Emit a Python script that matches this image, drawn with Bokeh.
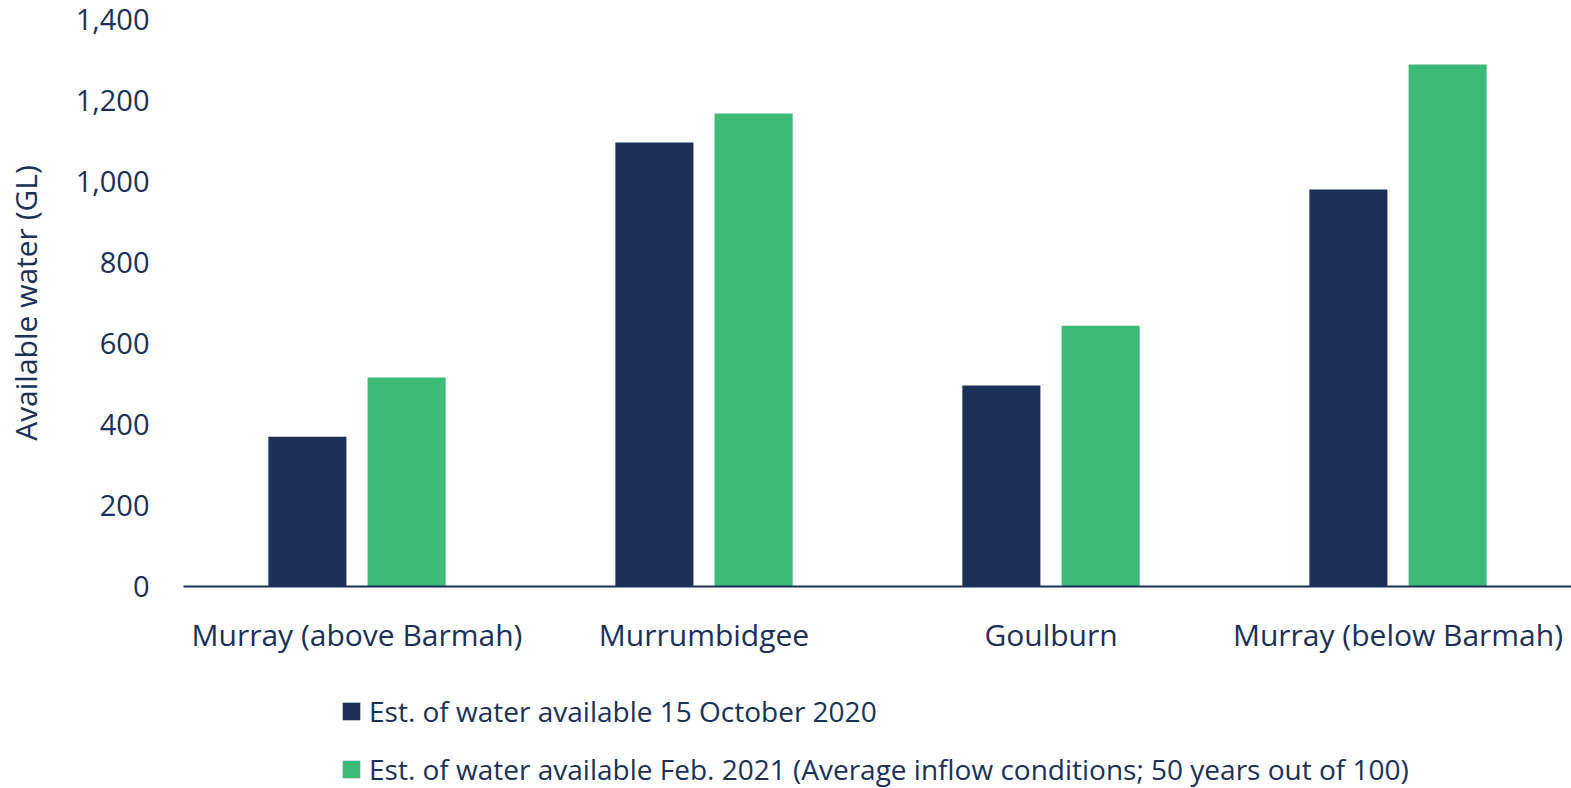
from bokeh.plotting import figure
from bokeh.layouts import column
from bokeh.models import (FactorRange, Range1d, Legend, LegendItem, FixedTicker,
                          NumeralTickFormatter, ColumnDataSource)
from bokeh.transform import dodge
from bokeh.embed import file_html
from bokeh.resources import INLINE

categories = ["Murray (above Barmah)", "Murrumbidgee", "Goulburn", "Murray (below Barmah)"]
oct_2020 = [370, 1096, 496, 980]
feb_2021 = [516, 1168, 644, 1289]
y_ticks = [0, 200, 400, 600, 800, 1000, 1200, 1400]
series_labels = [
    "Est. of water available 15 October 2020",
    "Est. of water available Feb. 2021 (Average inflow conditions; 50 years out of 100)",
]
y_title = "Available water (GL)"

NAVY = "#1B3158"
GREEN = "#3EBA78"
FONT = "Open Sans"
W = 1571

src = ColumnDataSource(dict(cat=categories, a=oct_2020, b=feb_2021))

p = figure(x_range=FactorRange(*categories, range_padding=0),
           y_range=Range1d(0, 1400),
           width=W, height=670,
           output_backend="svg", toolbar_location=None,
           min_border_left=183, min_border_right=0,
           min_border_top=19, min_border_bottom=84)

r1 = p.vbar(x=dodge("cat", -0.143, range=p.x_range), top="a", width=0.225,
            source=src, fill_color=NAVY, line_color=None)
r2 = p.vbar(x=dodge("cat", 0.143, range=p.x_range), top="b", width=0.225,
            source=src, fill_color=GREEN, line_color=None)

p.outline_line_color = None
p.xgrid.grid_line_color = None
p.ygrid.grid_line_color = None

# y axis
p.yaxis.ticker = FixedTicker(ticks=y_ticks)
p.yaxis.formatter = NumeralTickFormatter(format="0,0")
p.yaxis.axis_line_color = None
p.yaxis.major_tick_line_color = None
p.yaxis.minor_tick_line_color = None
p.yaxis.major_label_standoff = 28
p.yaxis.major_label_text_font = FONT
p.yaxis.major_label_text_font_size = "29px"
p.yaxis.major_label_text_color = NAVY
p.yaxis.axis_label = y_title
p.yaxis.axis_label_text_font = FONT
p.yaxis.axis_label_text_font_size = "30px"
p.yaxis.axis_label_text_font_style = "normal"
p.yaxis.axis_label_text_color = NAVY
p.yaxis.axis_label_standoff = 27

# x axis
p.xaxis.axis_line_color = NAVY
p.xaxis.axis_line_width = 2
p.xaxis.major_tick_line_color = None
p.xaxis.minor_tick_line_color = None
p.xaxis.major_label_standoff = 21
p.xaxis.major_label_text_font = FONT
p.xaxis.major_label_text_font_size = "30px"
p.xaxis.major_label_text_color = NAVY

# legend panel (hidden swatch renderers reuse the series data)
pl = figure(width=W, height=118, x_range=Range1d(0, 1), y_range=Range1d(0, 1),
            x_axis_type=None, y_axis_type=None,
            output_backend="svg", toolbar_location=None,
            min_border=0)
pl.outline_line_color = None
pl.xgrid.grid_line_color = None
pl.ygrid.grid_line_color = None
l1 = pl.vbar(x="a", top="a", width=0.1, source=src, fill_color=NAVY,
             line_color=None, visible=False)
l2 = pl.vbar(x="b", top="b", width=0.1, source=src, fill_color=GREEN,
             line_color=None, visible=False)

legend = Legend(items=[LegendItem(label=series_labels[0], renderers=[l1]),
                       LegendItem(label=series_labels[1], renderers=[l2])],
                location=(157, 0), orientation="vertical",
                padding=0, margin=0, border_line_alpha=0, background_fill_alpha=0,
                glyph_width=22, glyph_height=22, label_standoff=7,
                label_height=38, spacing=20,
                label_text_font=FONT, label_text_font_size="28px",
                label_text_color=NAVY)
pl.add_layout(legend, "center")

layout = column(p, pl, spacing=0)
open("out.html", "w").write(file_html(layout, INLINE))
